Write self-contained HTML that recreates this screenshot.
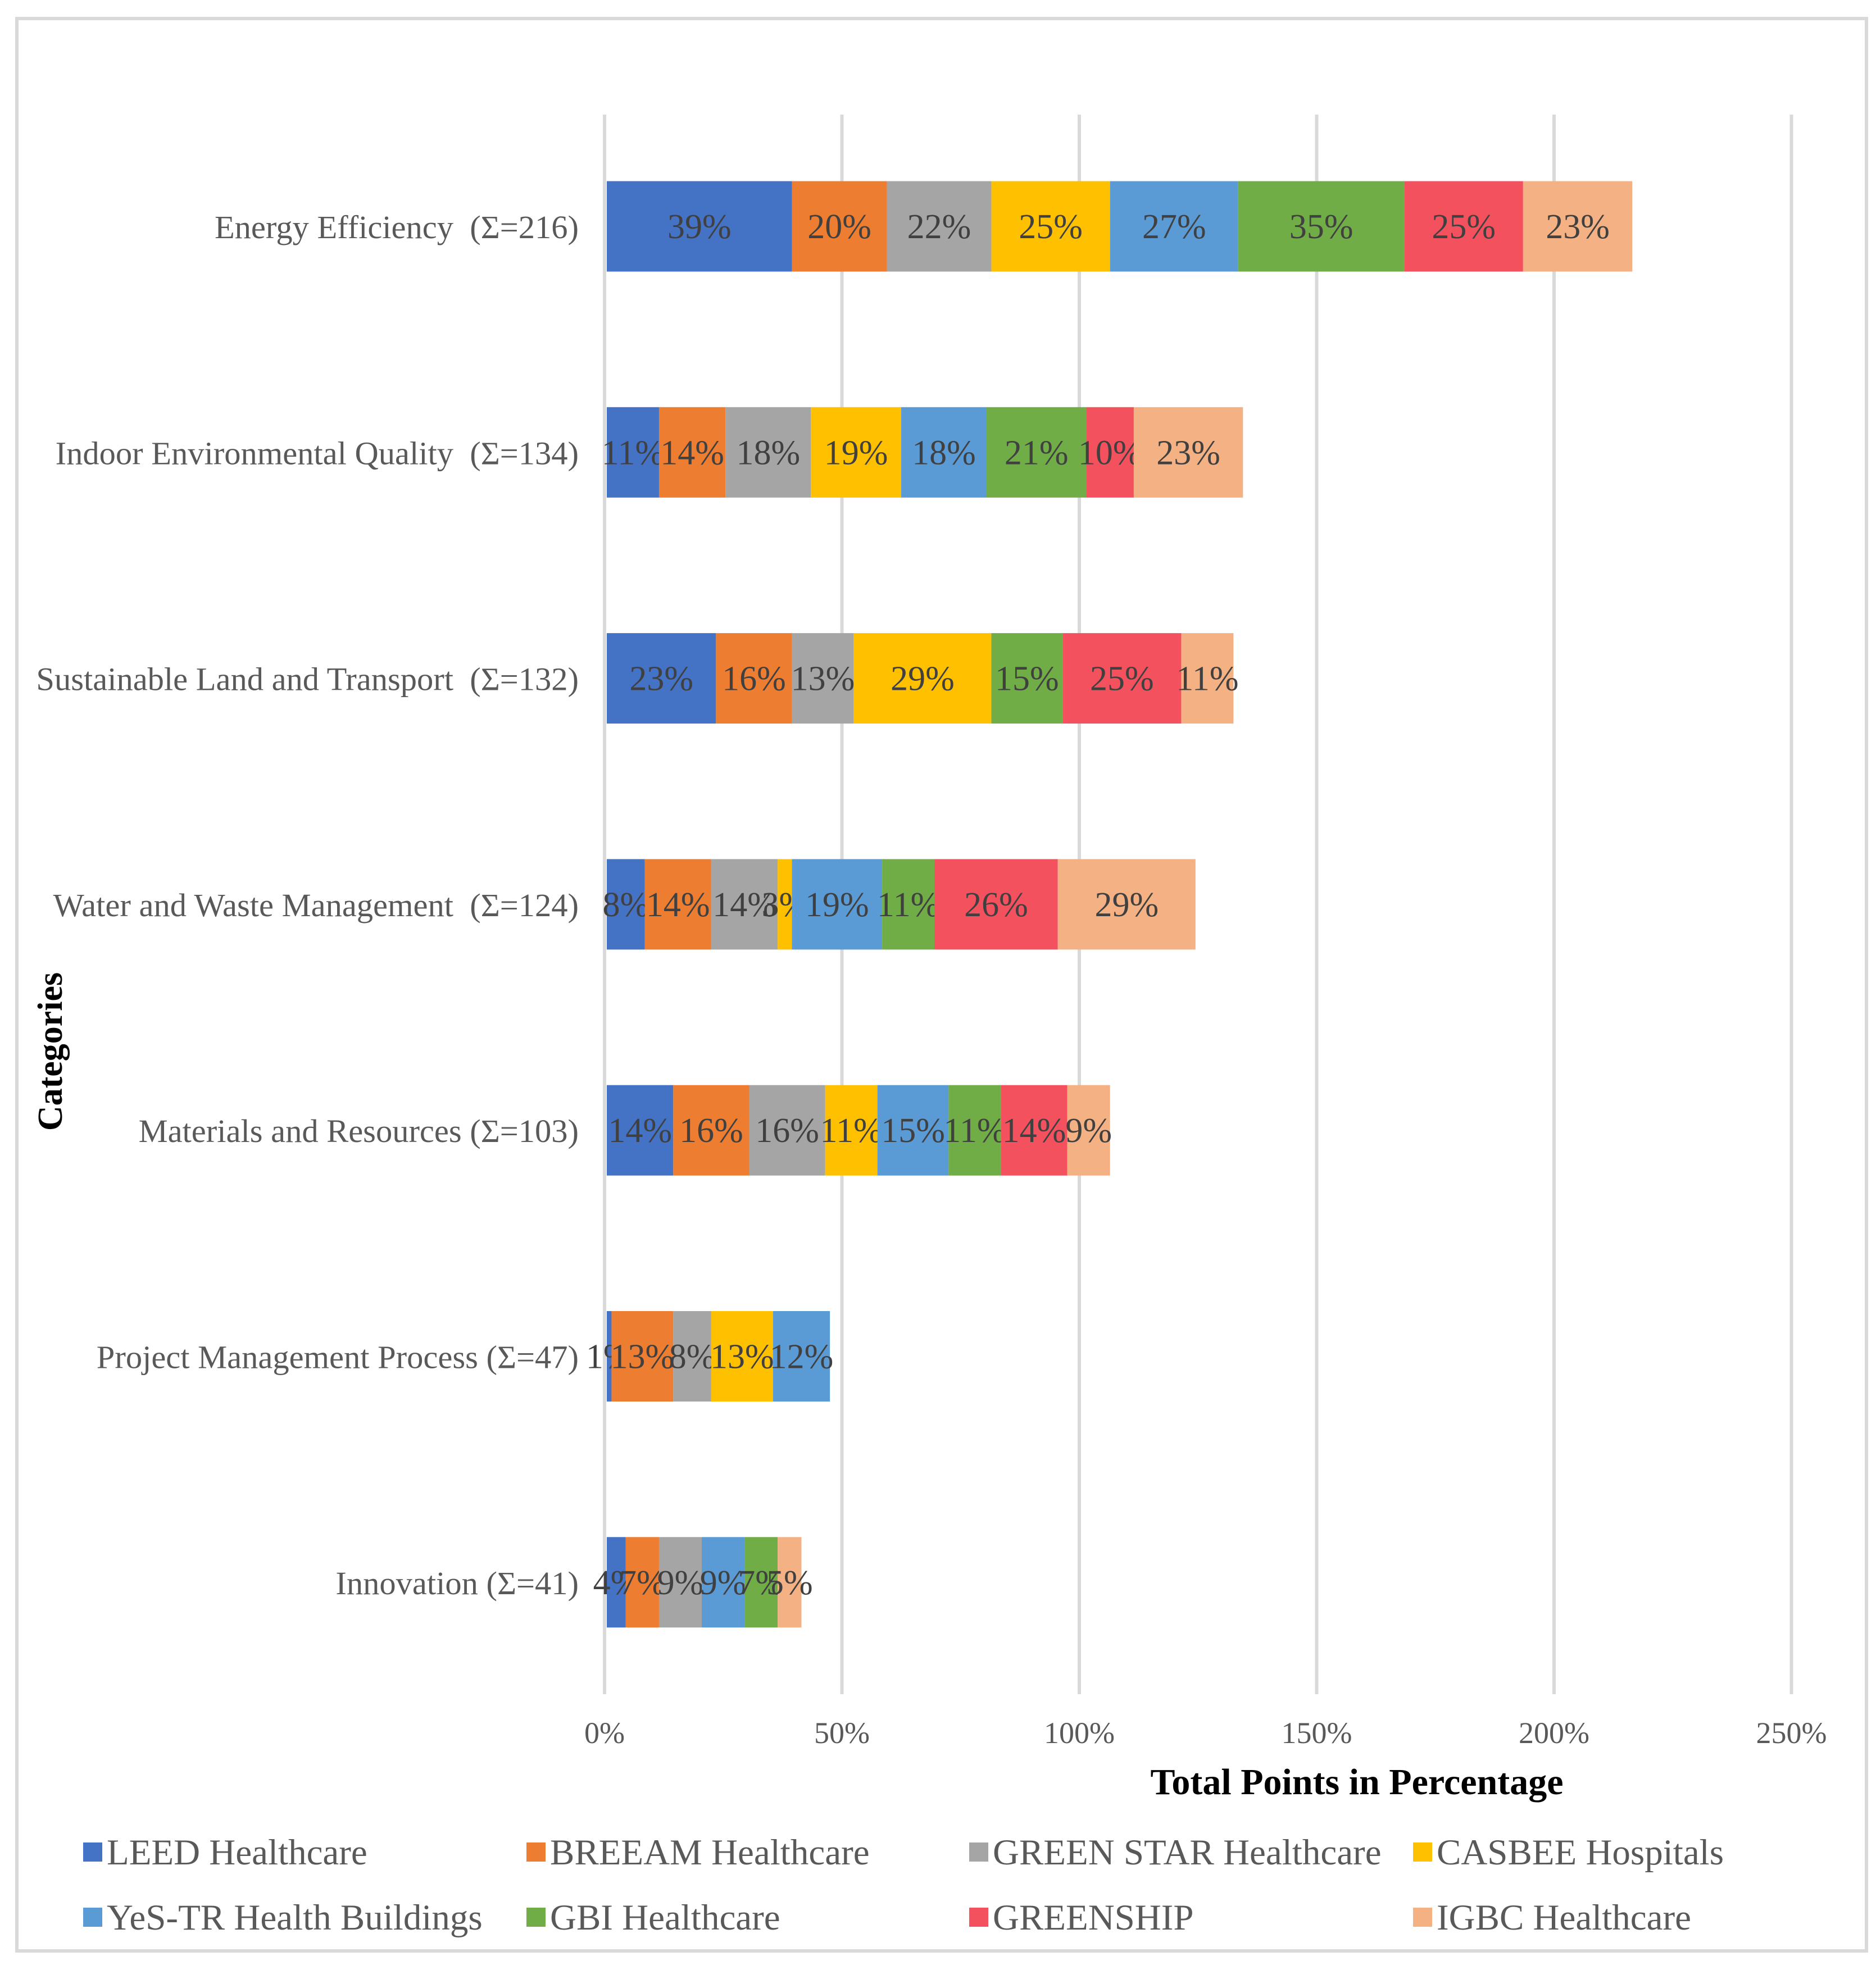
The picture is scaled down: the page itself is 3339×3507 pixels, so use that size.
<!DOCTYPE html>
<html><head><meta charset="utf-8">
<style>
html,body{margin:0;padding:0;background:#fff;}
svg{display:block;font-family:"Liberation Serif",serif;}
text{white-space:pre;}
</style></head>
<body>
<svg id="chart" width="3339" height="3507" viewBox="0 0 3339 3507" xmlns="http://www.w3.org/2000/svg">
<rect x="30" y="33" width="3292" height="3440" fill="#fff" stroke="#d9d9d9" stroke-width="6"/>
<g id="grid"></g>
<g id="bars"></g>
<g id="ylabels"></g>
<g id="xticks"></g>
<text x="2415" y="3194" font-size="66" font-weight="bold" text-anchor="middle" fill="#000">Total Points in Percentage</text>
<text transform="translate(110,1872) rotate(-90)" font-size="62" font-weight="bold" text-anchor="middle" fill="#000">Categories</text>
<g id="legend"></g>
</svg>
<script>
const categories = ["Energy Efficiency  (\u03A3=216)","Indoor Environmental Quality  (\u03A3=134)","Sustainable Land and Transport  (\u03A3=132)","Water and Waste Management  (\u03A3=124)","Materials and Resources (\u03A3=103)","Project Management Process (\u03A3=47)","Innovation (\u03A3=41)"];
const seriesNames = ["LEED Healthcare","BREEAM Healthcare","GREEN STAR Healthcare","CASBEE Hospitals","YeS-TR Health Buildings","GBI Healthcare","GREENSHIP","IGBC Healthcare"];
const colors = ["#4472c4","#ed7d31","#a5a5a5","#ffc000","#5b9bd5","#70ad47","#f4515e","#f4b183"];
const leed = [39,11,23,8,14,1,4];
const breeam = [20,14,16,14,16,13,7];
const greenstar = [22,18,13,14,16,8,9];
const casbee = [25,19,29,3,11,13,0];
const yestr = [27,18,0,19,15,12,9];
const gbi = [35,21,15,11,11,0,7];
const greenship = [25,10,25,26,14,0,0];
const igbc = [23,23,11,29,9,0,5];
const series = [leed,breeam,greenstar,casbee,yestr,gbi,greenship,igbc];
const xTicks = [0,50,100,150,200,250];

const NS="http://www.w3.org/2000/svg";
const x0=1076, pxPer=8.45, yTop=204, yBot=3016, firstC=403, step=402.3, bandH=161;
const xs=v=>x0+v*pxPer;
const yc=i=>firstC+i*step;
function mk(tag,attrs,parent){const e=document.createElementNS(NS,tag);for(const k in attrs)e.setAttribute(k,attrs[k]);parent.appendChild(e);return e;}
const grid=document.getElementById('grid'), bars=document.getElementById('bars'), yl=document.getElementById('ylabels'), xt=document.getElementById('xticks'), lg=document.getElementById('legend');
xTicks.forEach(t=>{
  const l=mk('line',{x1:xs(t),x2:xs(t),y1:yTop,y2:yBot,stroke:'#d9d9d9','stroke-width':6},grid);
  
  
  const tx=mk('text',{x:xs(t),y:3103,'font-size':54,'text-anchor':'middle',fill:'#595959'},xt);
  tx.textContent=t+'%';
  
  
});
categories.forEach((c,i)=>{
  const t=mk('text',{x:1030,y:yc(i)+21,'font-size':58.5,'text-anchor':'end',fill:'#595959'},yl);
  t.textContent=c;
  
  
  let acc=0;
  series.forEach((s,j)=>{
    const v=s[i];
    if(v>0){
      const r=mk('rect',{x:xs(acc)+4,y:yc(i)-bandH/2,width:v*pxPer,height:bandH,fill:colors[j]},bars);
      
      
      const lt=mk('text',{x:xs(acc+v/2)+4,y:yc(i)+21,'font-size':62,'text-anchor':'middle',fill:'#404040'},bars);
      lt.textContent=v+'%';
      
      
    }
    acc+=v;
  });
});
const lx=[148,937,1725,2515], ly=[3297,3413];
seriesNames.forEach((n,j)=>{
  const x=lx[j%4], y=ly[Math.floor(j/4)];
  const g=mk('g',{},lg);
  
  
  mk('rect',{x:x,y:y-17,width:34,height:34,fill:colors[j]},g);
  const t=mk('text',{x:x+42,y:y+22,'font-size':65,fill:'#595959'},g);
  t.textContent=n;
});
</script>
</body></html>
